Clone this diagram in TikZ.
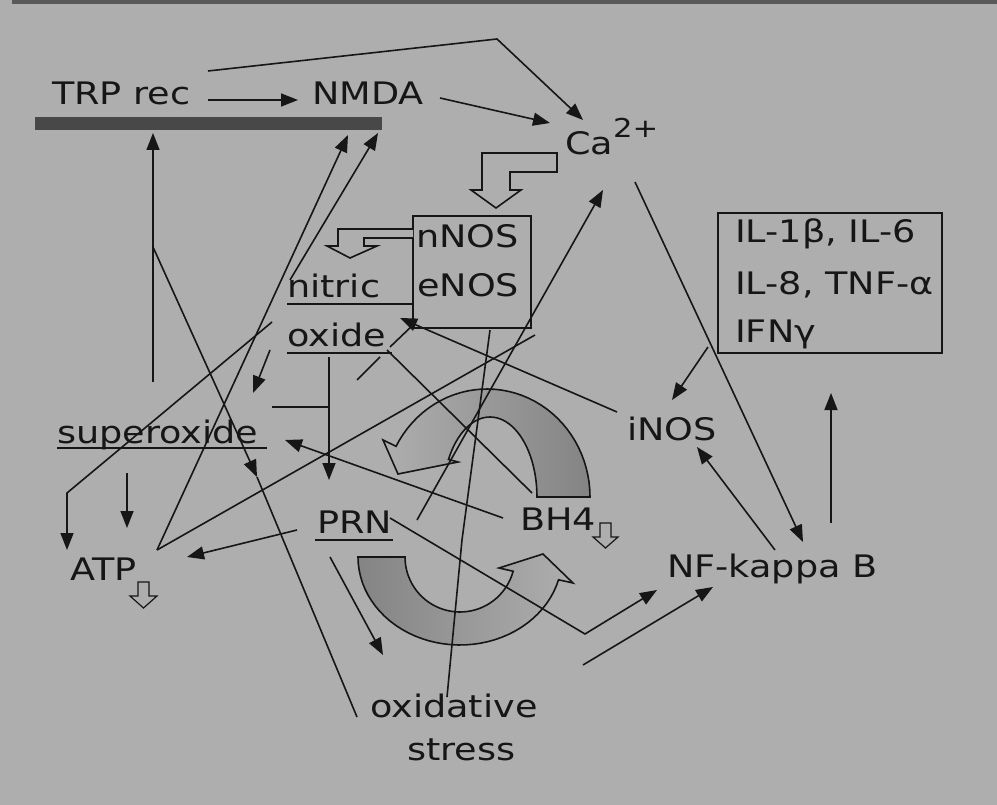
\documentclass[tikz,border=0pt]{standalone}
\usepackage{fontspec}
\setmainfont{DejaVu Sans}[FakeStretch=1.18]
\usetikzlibrary{arrows.meta}
\definecolor{bg}{RGB}{174,174,174}
\definecolor{ink}{RGB}{22,22,22}
\definecolor{barc}{RGB}{72,72,72}
\definecolor{shadec}{RGB}{132,132,132}
\begin{document}
\begin{tikzpicture}[x=1pt,y=-1pt,
  lbl/.style={font=\fontsize{31}{36}\selectfont, text=ink, inner sep=0pt, anchor=base west},
  con/.style={draw=ink, line width=1.6pt},
  arr/.style={con, -{Triangle[length=17pt,width=13pt]}},
  ul/.style={draw=ink, line width=1.8pt},
  boxc/.style={draw=ink, line width=1.8pt},
  hollow/.style={draw=ink, line width=1.6pt, fill=bg, line join=miter},
  band/.style={draw=ink, line width=1.6pt}]
\useasboundingbox (0,0) rectangle (997,805);
\fill[bg] (0,0) rectangle (997,805);
\fill[black!65] (12,0) rectangle (997,4);

% ---- block arrows (drawn first, lines go over them)
\shadedraw[band, left color=bg, right color=shadec]
  plot[domain=0:152, samples=40] ({487+103*cos(\x)},{497-108*sin(\x)})
  -- (383,440) -- (398,474) -- (458,462)
  -- plot[domain=152:0, samples=40] ({490+47*cos(\x)},{497-80*sin(\x)}) -- cycle;
\shadedraw[band, left color=shadec, right color=bg]
  plot[domain=180:345, samples=40] ({460+102*cos(\x)},{557-88*sin(\x)})
  -- (573,583) -- (543,554) -- (499,568)
  -- plot[domain=345:180, samples=40] ({460+55*cos(\x)},{557-55*sin(\x)}) -- cycle;

% ---- labels
\node[lbl] (trp) at (52,105) {TRP rec};
\node[lbl] (nmda) at (312,105) {NMDA};
\node[lbl] (ca) at (565,155) {Ca\raisebox{17pt}{\fontsize{26}{26}\selectfont 2+}};
\node[lbl] (nnos) at (416,248) {nNOS};
\node[lbl] (enos) at (417,297) {eNOS};
\node[lbl] (nitric) at (287,298) {nitric};
\node[lbl] (oxide) at (287,347) {oxide};
\node[lbl] (superox) at (57,443) {superoxide};
\node[lbl] (atp) at (70,580) {ATP};
\node[lbl] (prn) at (317,533) {PRN};
\node[lbl] (bh) at (520,530) {BH4};
\node[lbl] (inos) at (627,440) {iNOS};
\node[lbl] (nfkb) at (667,577) {NF-kappa B};
\node[lbl] (oxid) at (370,717) {oxidative};
\node[lbl] (stress) at (407,760) {stress};
\node[lbl] (il1) at (735,243) {IL-1β, IL-6};
\node[lbl] (il2) at (735,295) {IL-8, TNF-α};
\node[lbl] (il3) at (735,343) {IFNγ};

% ---- boxes and underlines
\draw[boxc] (413,216) rectangle (531,328);
\draw[boxc] (718,213) rectangle (942,353);
\draw[ul] (287,304) -- (413,304);
\draw[ul] (287,353) -- (392,353);
\draw[ul] (57,448) -- (267,448);
\draw[ul] (315,540) -- (393,540);
\draw[line width=13pt, barc] (35,124) -- (382,124);

% ---- hollow block arrows
\draw[hollow] (482,153) -- (557,153) -- (557,172) -- (510,172) -- (510,190)
  -- (521,190) -- (496,208) -- (471,190) -- (482,190) -- cycle;
\draw[hollow] (413,229) -- (338,229) -- (338,246) -- (327,246) -- (350,258)
  -- (377,246) -- (364,246) -- (364,238) -- (413,238);
\draw[hollow, line width=1.2pt] (138,582) -- (149,582) -- (149,596) -- (157,596)
  -- (143.5,608) -- (130,596) -- (138,596) -- cycle;
\draw[hollow, line width=1.2pt] (600,523) -- (611,523) -- (611,537) -- (618,537)
  -- (605.5,548) -- (593,537) -- (600,537) -- cycle;

% ---- connector end points
\coordinate (p1a) at (208,100); \coordinate (p1b) at (298,100);
\coordinate (p2a) at (208,71);  \coordinate (p2k) at (497,39); \coordinate (p2b) at (583,120);
\coordinate (p3a) at (440,98);  \coordinate (p3b) at (550,123);
\coordinate (p5a) at (153,382); \coordinate (p5b) at (153,133);
\coordinate (p6a) at (153,247); \coordinate (p6b) at (257,477); \coordinate (p6c) at (357,717);
\coordinate (atpR) at (157,550); \coordinate (bar2) at (348,135); \coordinate (bar3) at (378,133);
\coordinate (p8a) at (290,280);
\coordinate (p9a) at (270,350); \coordinate (p9b) at (253,393);
\coordinate (p10a) at (272,322); \coordinate (p10k) at (67,493); \coordinate (p10b) at (67,550);
\coordinate (p11a) at (127,473); \coordinate (p11b) at (127,528);
\coordinate (p12a) at (297,530); \coordinate (p12b) at (187,557);
\coordinate (p13b) at (535,335);
\coordinate (p14a) at (329,357); \coordinate (p14b) at (329,480);
\coordinate (p15a) at (272,407); \coordinate (p15b) at (329,407);
\coordinate (p16a) at (503,518); \coordinate (p16b) at (285,440);
\coordinate (p17a) at (387,350); \coordinate (p17b) at (532,493);
\coordinate (p18a) at (617,412); \coordinate (p18b) at (400,318);
\coordinate (p19a) at (413,325); \coordinate (p19b) at (390,347);
\coordinate (p20a) at (357,380); \coordinate (p20b) at (380,357);
\coordinate (p21a) at (417,520); \coordinate (p21b) at (603,190);
\coordinate (p22a) at (390,518); \coordinate (p22k) at (585,634); \coordinate (p22b) at (657,590);
\coordinate (p23a) at (583,665); \coordinate (p23b) at (713,587);
\coordinate (p24a) at (330,557); \coordinate (p24b) at (383,655);
\coordinate (p25a) at (635,182); \coordinate (p25b) at (803,542);
\coordinate (p26a) at (775,550); \coordinate (p26b) at (697,447);
\coordinate (p27a) at (831,523); \coordinate (p27b) at (831,393);
\coordinate (p28a) at (708,347); \coordinate (p28b) at (672,400);
\coordinate (p29a) at (447,697); \coordinate (p29k) at (462,540); \coordinate (p29b) at (490,330);

% ---- connectors
\draw[arr] (p1a) -- (p1b);
\draw[arr] (p2a) -- (p2k) -- (p2b);
\draw[arr] (p3a) -- (p3b);
\draw[arr] (p5a) -- (p5b);
\draw[arr] (p6a) -- (p6b);
\draw[con] (p6b) -- (p6c);
\draw[arr] (atpR) -- (bar2);
\draw[arr] (p8a) -- (bar3);
\draw[arr] (p9a) -- (p9b);
\draw[arr] (p10a) -- (p10k) -- (p10b);
\draw[arr] (p11a) -- (p11b);
\draw[arr] (p12a) -- (p12b);
\draw[con] (atpR) -- (p13b);
\draw[arr] (p14a) -- (p14b);
\draw[con] (p15a) -- (p15b);
\draw[arr] (p16a) -- (p16b);
\draw[con] (p17a) -- (p17b);
\draw[arr] (p18a) -- (p18b);
\draw[con] (p19a) -- (p19b);
\draw[con] (p20a) -- (p20b);
\draw[arr] (p21a) -- (p21b);
\draw[arr] (p22a) -- (p22k) -- (p22b);
\draw[arr] (p23a) -- (p23b);
\draw[arr] (p24a) -- (p24b);
\draw[arr] (p25a) -- (p25b);
\draw[arr] (p26a) -- (p26b);
\draw[arr] (p27a) -- (p27b);
\draw[arr] (p28a) -- (p28b);
\draw[con] (p29a) -- (p29k) -- (p29b);
\end{tikzpicture}
\end{document}
